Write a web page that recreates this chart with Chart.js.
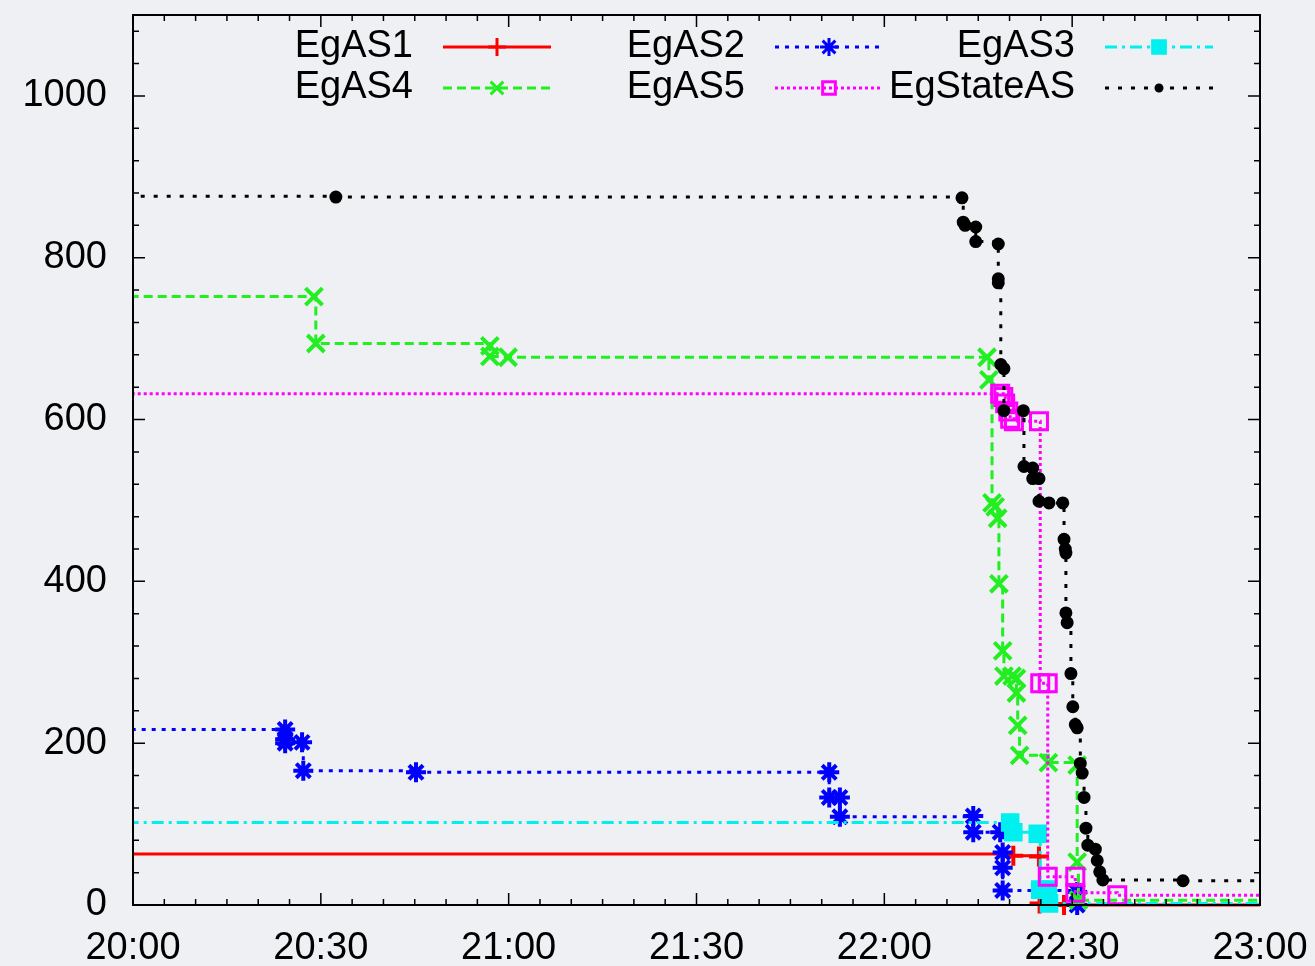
<!DOCTYPE html>
<html>
<head>
<meta charset="utf-8">
<script src="https://cdn.jsdelivr.net/npm/chart.js@4"></script>
<style>
  body { margin: 0; background: #eef0f3; }
  #wrap { width: 1315px; height: 966px; }
</style>
</head>
<body>
<div id="wrap"><canvas id="chart"></canvas></div>
<script>
'use strict'

// minutes after 20:00, value
const egAS1 = [[-5, 63], [140.6, 61], [144.7, 60], [144.8, 2], [148.7, 0], [185, 0]];
const egAS2 = [[-5, 217], [24.3, 217], [24.3, 205], [24.3, 200], [27.0, 201], [27.2, 166], [45.2, 164],
    [111.2, 164], [111.2, 133], [112.9, 133], [112.9, 109], [134.2, 110], [134.2, 90], [138.5, 90],
    [138.9, 65], [138.9, 46], [138.9, 18], [150.8, 16], [150.8, 0]];
const egAS3 = [[-5, 102], [140.1, 102], [140.6, 90], [144.5, 88], [144.9, 19], [146.1, 19], [146.3, 2], [185, 1]];
const egAS4 = [[-5, 752], [28.9, 752], [29.2, 694], [57.0, 691], [57.0, 678], [59.9, 677], [136.4, 677],
    [136.7, 649], [137.2, 497], [137.7, 492], [138.1, 478], [138.3, 397], [138.9, 314], [139.1, 283],
    [140.4, 283], [141.1, 280], [141.1, 262], [141.3, 222], [141.6, 185], [146.2, 176], [150.8, 173],
    [150.8, 53], [151.0, 6], [185, 6]];
const egAS5 = [[-5, 632], [138.5, 632], [139.0, 628], [139.3, 620], [139.8, 610], [140.1, 601], [140.7, 598],
    [144.7, 598], [144.9, 274], [146.1, 274], [146.1, 35], [150.5, 35], [150.5, 15], [157.2, 12], [185, 12]];
const egStateAS = [[-5, 876], [32.4, 875], [132.4, 874], [132.6, 844], [132.9, 840], [134.6, 838], [134.6, 820],
    [138.2, 817], [138.2, 774], [138.2, 769], [138.6, 668], [139.1, 663], [139.1, 611], [142.2, 611],
    [142.3, 542], [143.7, 540], [143.7, 527], [144.7, 527], [144.7, 499], [146.3, 497], [148.5, 497],
    [148.7, 452], [148.9, 440], [149.0, 435], [149.0, 361], [149.2, 349], [149.8, 286], [150.1, 245],
    [150.5, 223], [150.8, 219], [151.3, 175], [151.6, 163], [151.9, 133], [152.2, 95], [152.5, 74],
    [153.7, 69], [154.0, 55], [154.4, 41], [154.9, 31], [167.7, 30], [185, 30]];

const xTicks = [0, 30, 60, 90, 120, 150, 180];
const yTicks = [0, 200, 400, 600, 800, 1000];

function toXY(arr) {
    return arr.map(p => ({ x: p[0], y: p[1] }));
}

function timeLabel(m) {
    let h = 20 + Math.floor(m / 60);
    let mm = m % 60;
    return h + ':' + (mm < 10 ? '0' : '') + mm;
}

Chart.defaults.font.family = '"Liberation Sans", Arial, sans-serif';
Chart.defaults.font.size = 38;
Chart.defaults.color = '#000';

function makeSet(label, data, color, dash, style, radius, fill, markWidth, order) {
    return {
        label: label,
        data: toXY(data),
        borderColor: color,
        backgroundColor: fill,
        borderWidth: 3,
        borderDash: dash,
        stepped: true,
        pointStyle: style,
        pointRadius: ctx => (ctx.raw && (ctx.raw.x < 0 || ctx.raw.x > 180)) ? 0 : radius,
        pointBorderColor: color,
        pointBackgroundColor: fill,
        pointBorderWidth: markWidth,
        clip: { left: 0, right: 0, top: 12, bottom: 12 },
        order: order
    };
}

// gnuplot-ish frame with inward ticks on all sides
const framePlugin = {
    id: 'frame',
    afterDraw(chart) {
        const { ctx, chartArea: a, scales } = chart;
        ctx.save();
        ctx.strokeStyle = '#000';
        ctx.lineWidth = 2;
        ctx.strokeRect(a.left, a.top, a.right - a.left, a.bottom - a.top);
        ctx.lineWidth = 1.5;
        ctx.beginPath();
        for (let t = 0; t <= 180; t += 5) {
            let px = scales.x.getPixelForValue(t);
            let len = t % 30 === 0 ? 12 : 6;
            ctx.moveTo(px, a.bottom); ctx.lineTo(px, a.bottom - len);
            ctx.moveTo(px, a.top); ctx.lineTo(px, a.top + len);
        }
        for (let v = 0; v <= 1080; v += 40) {
            let py = scales.y.getPixelForValue(v);
            let len = v % 200 === 0 ? 12 : 6;
            ctx.moveTo(a.left, py); ctx.lineTo(a.left + len, py);
            ctx.moveTo(a.right, py); ctx.lineTo(a.right - len, py);
        }
        ctx.stroke();
        ctx.restore();
    }
};

// legend in two rows of three, text right aligned then a line sample
const keyPlugin = {
    id: 'key',
    afterDraw(chart) {
        const ctx = chart.ctx;
        const textRight = [413, 745, 1075];
        const rowY = [47, 88];
        ctx.save();
        chart.data.datasets.forEach((ds, i) => {
            let col = i % 3;
            let row = Math.floor(i / 3);
            let y = rowY[row];
            let x0 = textRight[col] + 30;
            let x1 = x0 + 108;
            ctx.font = '38px "Liberation Sans", Arial, sans-serif';
            ctx.fillStyle = '#000';
            ctx.textAlign = 'right';
            ctx.textBaseline = 'middle';
            ctx.fillText(ds.label, textRight[col], y);
            ctx.strokeStyle = ds.borderColor;
            ctx.lineWidth = ds.borderWidth;
            ctx.setLineDash(ds.borderDash);
            ctx.beginPath();
            ctx.moveTo(x0, y);
            ctx.lineTo(x1, y);
            ctx.stroke();
            ctx.setLineDash([]);
            ctx.fillStyle = ds.pointBackgroundColor;
            ctx.lineWidth = 3;
            Chart.helpers.drawPoint(ctx, {
                pointStyle: ds.pointStyle,
                rotation: 0,
                radius: ds.pointStyle === 'circle' ? 3 : 9,
                borderWidth: 3
            }, (x0 + x1) / 2, y);
        });
        ctx.restore();
    }
};

let chartObj = {
    type: 'line',
    data: {
        datasets: [
            makeSet('EgAS1', egAS1, '#ff0000', [], 'cross', 10, '#ff0000', 4, 5),
            makeSet('EgAS2', egAS2, '#0000ff', [4, 6], 'star', 10, '#0000ff', 4, 4),
            makeSet('EgAS3', egAS3, '#00f0f0', [12, 5, 3, 5], 'rect', 11, '#00f0f0', 3, 3),
            makeSet('EgAS4', egAS4, '#22ee22', [9, 5], 'crossRot', 12, '#22ee22', 4, 2),
            makeSet('EgAS5', egAS5, '#ff00ff', [3, 3], 'rect', 12, 'rgba(0,0,0,0)', 3, 1),
            makeSet('EgStateAS', egStateAS, '#000000', [4, 9], 'circle', 5.5, '#000000', 2, 0)
        ]
    },
    options: {
        responsive: true,
        maintainAspectRatio: false,
        animation: false,
        layout: { padding: { top: 15, right: 55, left: 0, bottom: 0 } },
        plugins: {
            legend: { display: false },
            tooltip: { enabled: false }
        },
        scales: {
            x: {
                type: 'linear',
                min: 0,
                max: 180,
                afterFit: s => { s.height = 61; s.paddingLeft = 0; s.paddingRight = 0; },
                afterBuildTicks: s => { s.ticks = xTicks.map(v => ({ value: v })); },
                grid: { display: false, drawTicks: false },
                border: { display: false },
                ticks: {
                    padding: 21,
                    maxRotation: 0,
                    autoSkip: false,
                    callback: v => timeLabel(v)
                }
            },
            y: {
                min: 0,
                max: 1100,
                afterFit: s => { s.width = 133; s.paddingTop = 0; s.paddingBottom = 0; },
                afterBuildTicks: s => { s.ticks = yTicks.map(v => ({ value: v })); },
                grid: { display: false, drawTicks: false },
                border: { display: false },
                ticks: {
                    padding: 26,
                    autoSkip: false,
                    callback: v => String(v)
                }
            }
        }
    },
    plugins: [framePlugin, keyPlugin]
};

new Chart(document.getElementById('chart'), chartObj);
</script>
</body>
</html>
